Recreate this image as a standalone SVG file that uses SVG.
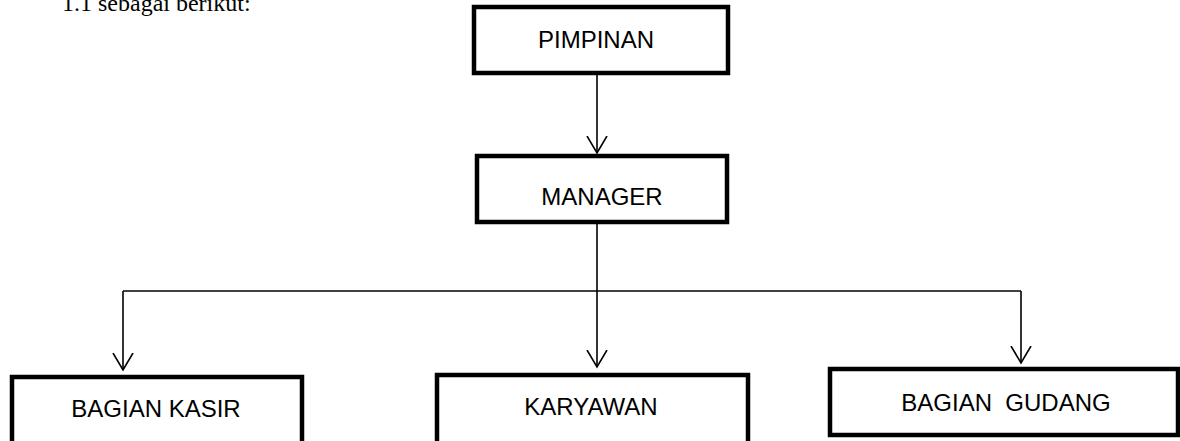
<svg xmlns="http://www.w3.org/2000/svg" width="1180" height="441" viewBox="0 0 1180 441">
<style>
.box{fill:#fff;stroke:#000;stroke-width:4.5}
.lbl{font-family:"Liberation Sans",Arial,sans-serif;font-size:24px;fill:#000;text-anchor:middle}
.con{fill:none;stroke:#000;stroke-width:1.6}
</style>
<defs>
<marker id="arr" markerUnits="userSpaceOnUse" markerWidth="24" markerHeight="24" refX="17" refY="10" orient="auto" viewBox="0 0 24 20">
<path d="M0,0 L17,10 L0,20" fill="none" stroke="#000" stroke-width="1.6"/>
</marker>
</defs>
<rect width="1180" height="441" fill="#fff"/>
<text x="62" y="11" font-family="Liberation Serif,Times New Roman,serif" font-size="24">1.1 sebagai berikut:</text>
<g id="connectors">
<path class="con" d="M597,75 L597,153" marker-end="url(#arr)"/>
<path class="con" d="M597,224 L597,367" marker-end="url(#arr)"/>
<path class="con" d="M123,291 L1021,291"/>
<path class="con" d="M123,291 L123,370" marker-end="url(#arr)"/>
<path class="con" d="M1021,291 L1021,363" marker-end="url(#arr)"/>
</g>
<g id="pimpinan">
<rect class="box" x="474" y="7" width="254" height="66"/>
<text class="lbl" x="596" y="48">PIMPINAN</text>
</g>
<g id="manager">
<rect class="box" x="477" y="156" width="250" height="66"/>
<text class="lbl" x="602" y="205">MANAGER</text>
</g>
<g id="kasir">
<rect class="box" x="12" y="377" width="290" height="68"/>
<text class="lbl" x="156" y="417">BAGIAN KASIR</text>
</g>
<g id="karyawan">
<rect class="box" x="437" y="375" width="311" height="70"/>
<text class="lbl" x="591" y="415">KARYAWAN</text>
</g>
<g id="gudang">
<rect class="box" x="830" y="369" width="348" height="66"/>
<text class="lbl" x="1006" y="411" xml:space="preserve">BAGIAN  GUDANG</text>
</g>
</svg>
